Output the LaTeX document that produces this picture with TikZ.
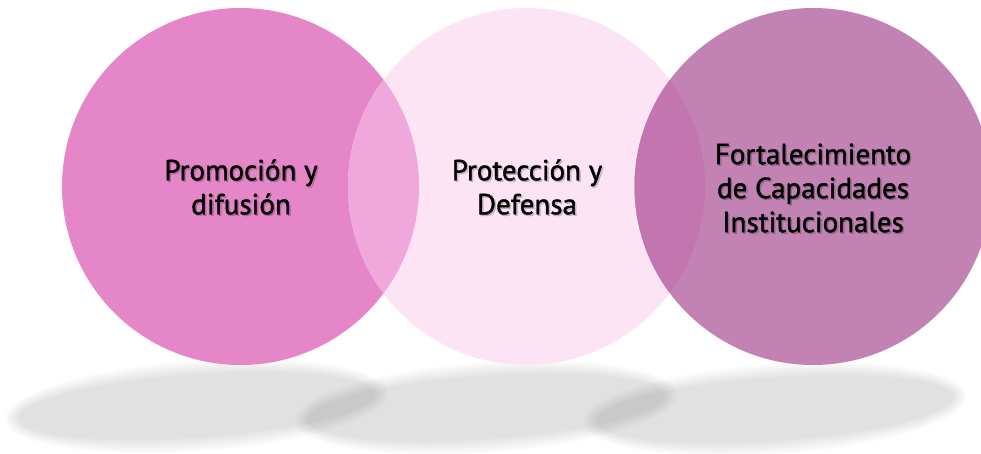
\documentclass[tikz,border=0pt]{standalone}
\usepackage{fontspec}
\setmainfont{PT Sans}[FakeBold=1.3]
\definecolor{cleft}{HTML}{E586C9}
\definecolor{cmid}{HTML}{FCE4F5}
\definecolor{cright}{HTML}{C283B4}
\definecolor{lensA}{HTML}{F0A7DB}
\definecolor{lensB}{HTML}{C275AF}
\begin{document}
\begin{tikzpicture}[x=1pt,y=-1pt,
  disc/.style={circle,inner sep=0pt,minimum size=357pt},
  lbl/.style={align=center,font=\fontsize{29}{34}\selectfont,text=black,inner sep=0pt},
  lblshadow/.style={lbl,text=black,text opacity=0.18},
  shade/.style={fill=black,fill opacity=0.02}]
\useasboundingbox (0,0) rectangle (981,454);
% shadows
\foreach \cx/\cy in {196.5/406, 486/407.5, 775/409}{
  \foreach \k in {0,...,5}{
    \fill[shade,rotate around={4:(\cx,\cy)}] (\cx,\cy) ellipse ({179+2.5*\k} and {32+2.6*\k});
  }
}
% circles
\node[disc,fill=cleft]  (c1) at (240.5,186.5) {};
\node[disc,fill=cmid]   (c2) at (526.5,186.5) {};
\node[disc,fill=cright] (c3) at (813,186.5) {};
\begin{scope}
  \clip (c1.center) circle (178.5);
  \fill[lensA] (c2.center) circle (178.5);
\end{scope}
\begin{scope}
  \clip (c2.center) circle (178.5);
  \fill[lensB] (c3.center) circle (178.5);
\end{scope}
% label shadows
\node[lblshadow] (s1) at (242.5,188.5) {Promoción y\\difusión};
\node[lblshadow] (s2) at (528.5,188.5) {Protección y\\Defensa};
\node[lblshadow] (s3) at (814.5,189.5) {Fortalecimiento\\de Capacidades\\Institucionales};
% labels
\node[lbl] (t1) at (241,187) {Promoción y\\difusión};
\node[lbl] (t2) at (527,187) {Protección y\\Defensa};
\node[lbl] (t3) at (813,188) {Fortalecimiento\\de Capacidades\\Institucionales};
\end{tikzpicture}
\end{document}
